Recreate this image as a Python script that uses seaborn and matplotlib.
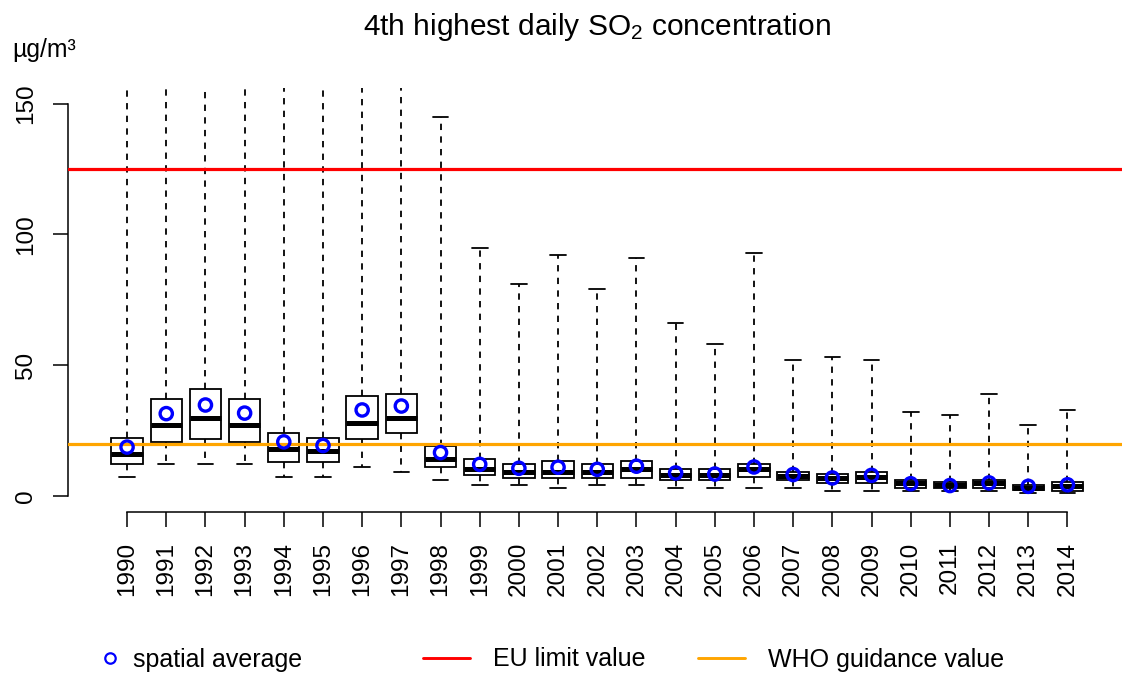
import matplotlib
matplotlib.use("Agg")
import matplotlib.pyplot as plt
from matplotlib.lines import Line2D
import seaborn as sns

# --- data -------------------------------------------------------------------
years = list(range(1990, 2015))
whisker_low = [7.1, 12.1, 12.1, 12.1, 7.1, 7.1, 11.0, 9.0, 6.0, 4.1,
               4.1, 3.1, 4.1, 4.1, 3.1, 3.1, 3.1, 3.1, 2.1, 2.1,
               2.1, 2.1, 2.1, 1.0, 1.0]
quart_low = [12.1, 20.8, 21.8, 20.8, 13.1, 13.1, 21.8, 24.0, 11.0, 7.9,
             7.0, 7.0, 7.0, 7.0, 6.1, 6.1, 7.1, 6.1, 5.1, 5.1,
             2.9, 2.9, 2.9, 2.2, 2.1]
medians = [16.0, 27.1, 30.0, 27.1, 18.1, 17.1, 28.0, 30.0, 14.0, 10.2,
           9.2, 9.2, 9.2, 10.2, 8.2, 8.0, 10.2, 7.7, 6.9, 7.1,
           5.1, 4.2, 4.8, 3.2, 3.8]
quart_high = [22.0, 36.9, 40.9, 36.9, 24.0, 22.0, 38.1, 39.0, 19.0, 14.0,
              12.2, 13.3, 12.2, 13.3, 10.2, 10.2, 12.1, 9.3, 8.3, 9.3,
              6.1, 5.2, 6.1, 4.2, 5.2]
whisker_high = [230, 240, 260, 235, 190, 210, 250, 220, 145, 95,
                81, 92, 79, 91, 66, 58, 93, 52, 53, 52,
                32, 31, 39, 27, 33]
spatial_mean = [18.7, 31.5, 34.8, 31.7, 20.7, 19.3, 32.9, 34.4, 16.6, 12.1,
                10.6, 11.0, 10.2, 11.4, 8.8, 8.4, 11.1, 8.2, 6.9, 7.9,
                4.7, 4.0, 5.0, 3.7, 4.3]
eu_limit = 125
who_guidance = 20

# --- style --------------------------------------------------------------------
sns.set_theme(style="white")
plt.rcParams["font.family"] = ["Liberation Sans", "DejaVu Sans"]
plt.rcParams["text.color"] = "black"
plt.rcParams["mathtext.fontset"] = "custom"
plt.rcParams["mathtext.rm"] = "Liberation Sans"
plt.rcParams["mathtext.it"] = "Liberation Sans:italic"
plt.rcParams["mathtext.bf"] = "Liberation Sans:bold"

W, H = 1122, 673
fig = plt.figure(figsize=(W / 100, H / 100), dpi=100)
fig.patch.set_facecolor("white")

left_px, right_px, top_px, bottom_px = 68.3, 1126.2, 88.0, 511.7
ax = fig.add_axes([left_px / W, 1 - bottom_px / H,
                   (right_px - left_px) / W, (bottom_px - top_px) / H])
ax.set_facecolor("white")

positions = list(range(1, len(years) + 1))

stats = [
    dict(whislo=lo, q1=a, med=m, q3=b, whishi=hi, label=str(y))
    for y, lo, a, m, b, hi in zip(years, whisker_low, quart_low, medians,
                                  quart_high, whisker_high)
]

ax.bxp(stats, positions=positions, widths=0.8, capwidths=0.4,
       showfliers=False, manage_ticks=False, patch_artist=True,
       boxprops=dict(facecolor="white", edgecolor="black", linewidth=1.3),
       medianprops=dict(color="black", linewidth=3.6, solid_capstyle="butt"),
       whiskerprops=dict(color="black", linewidth=1.3, linestyle=(0, (3.5, 3.5))),
       capprops=dict(color="black", linewidth=1.3))

# reference lines
ax.axhline(eu_limit, color="#FF0000", linewidth=2.3, zorder=4)
ax.axhline(who_guidance, color="#FFA500", linewidth=2.3, zorder=4)

# spatial averages as open circles
sns.scatterplot(x=positions, y=spatial_mean, ax=ax, marker="o", s=78,
                facecolor="none", edgecolor="#0000FF", linewidth=2.4,
                zorder=6, legend=False)

ax.set_xlim(-0.5, 26.5)
ax.set_ylim(-6, 156)

# axes in base-graphics style
sns.despine(ax=ax)
ax.spines["left"].set_bounds(0, 150)
ax.spines["bottom"].set_bounds(1, 25)
for side in ("left", "bottom"):
    ax.spines[side].set_color("black")
    ax.spines[side].set_linewidth(1.1)

ax.set_yticks([0, 50, 100, 150])
ax.set_yticklabels(["0", "50", "100", "150"], rotation=90, va="center")
ax.set_xticks(positions)
ax.set_xticklabels([str(y) for y in years], rotation=90)
ax.tick_params(axis="both", direction="out", length=10.8, width=1.1,
               color="black", labelsize=17.5, labelcolor="black",
               left=True, bottom=True)
ax.tick_params(axis="y", pad=12)
ax.tick_params(axis="x", pad=11)
ax.grid(False)

# titles and unit
fig.text(597 / W, 1 - 35 / H, "4th highest daily SO$_2$ concentration",
         ha="center", va="baseline", fontsize=21.5, color="black")
fig.text(12 / W, 1 - 56.5 / H, "µg/m³", ha="left", va="baseline",
         fontsize=17.8, color="black")

# legend row
line_y = 1 - 657.7 / H
text_y = 1 - 666.5 / H
fig.add_artist(Line2D([110 / W], [line_y], marker="o", markersize=7.5,
                      markerfacecolor="none", markeredgecolor="#0000FF",
                      markeredgewidth=1.6, linestyle="none",
                      transform=fig.transFigure))
fig.text(133 / W, text_y, "spatial average", ha="left", va="baseline",
         fontsize=18, color="black")
fig.add_artist(Line2D([423 / W, 470 / W], [line_y, line_y], color="#FF0000",
                      linewidth=2.1, transform=fig.transFigure))
fig.text(493 / W, text_y, "EU limit value", ha="left", va="baseline",
         fontsize=18, color="black")
fig.add_artist(Line2D([698 / W, 745 / W], [line_y, line_y], color="#FFA500",
                      linewidth=2.1, transform=fig.transFigure))
fig.text(768 / W, text_y, "WHO guidance value", ha="left", va="baseline",
         fontsize=18, color="black")

fig.savefig("out.png", dpi=100, facecolor="white")
